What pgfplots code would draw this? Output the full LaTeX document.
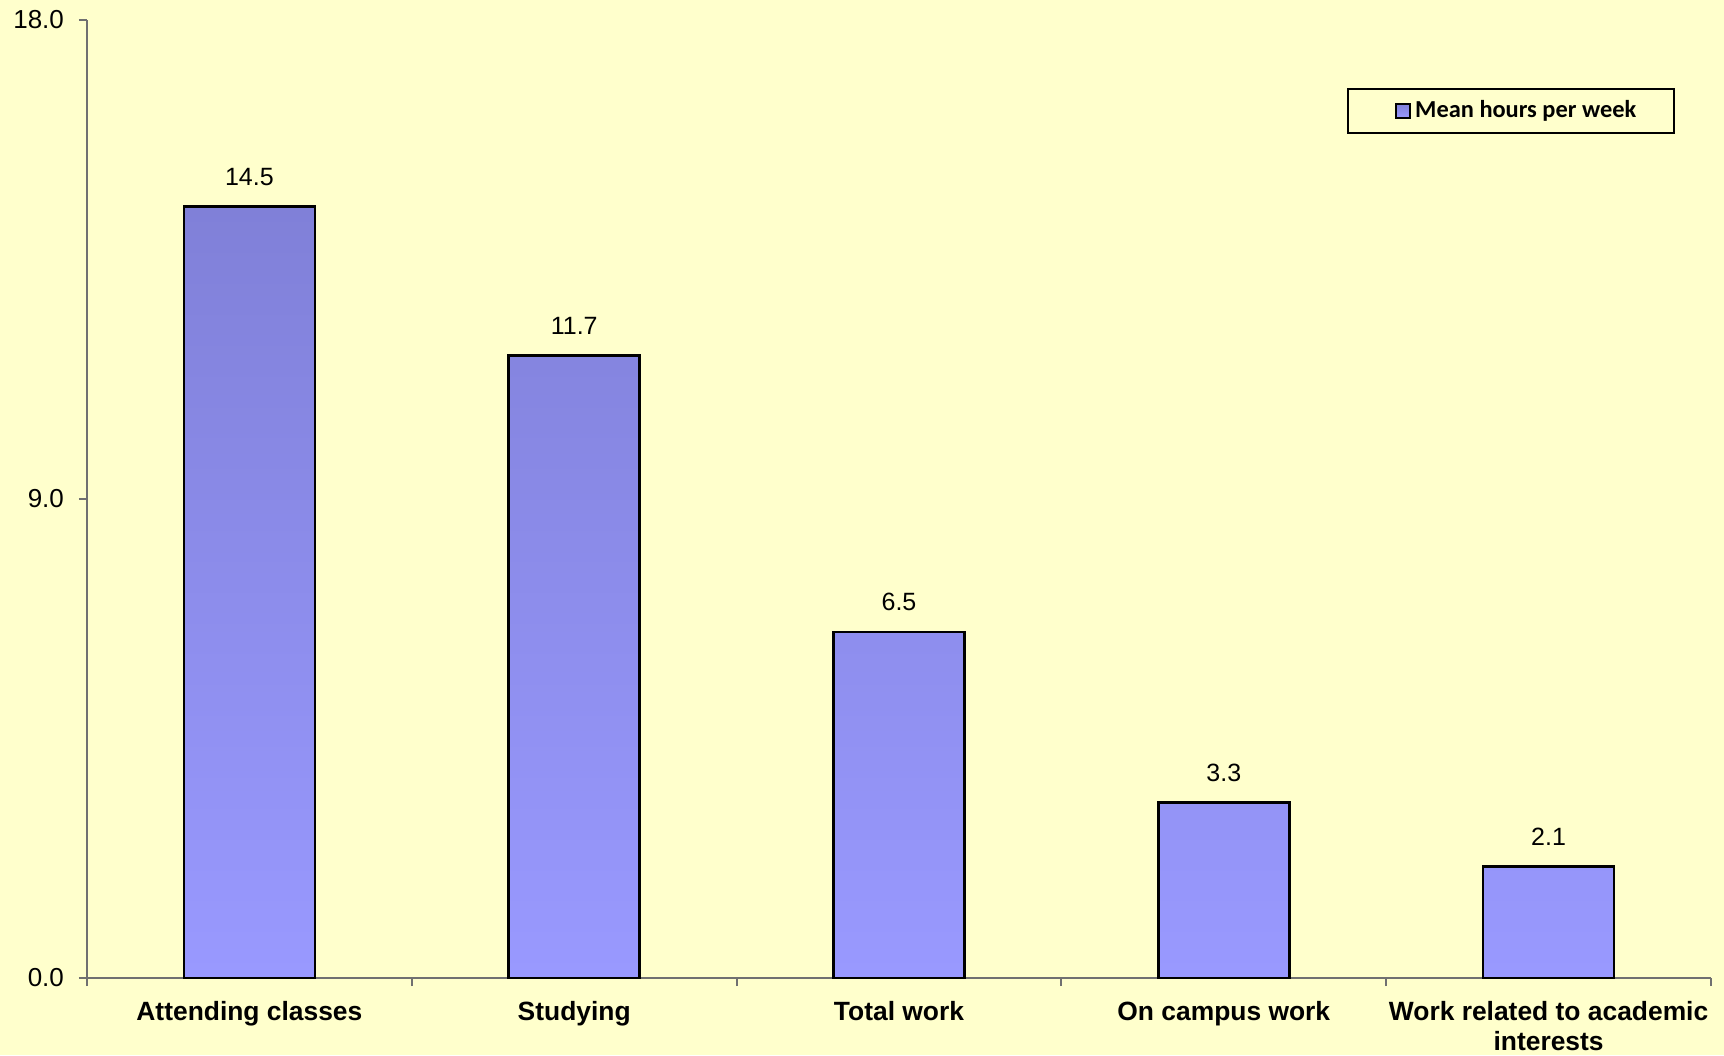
\documentclass[border=0pt]{standalone}
\usepackage{pgfplots}
\pgfplotsset{compat=1.18}
\usepackage{fontspec}
\setmainfont{Liberation Sans}
\newfontfamily\legendfont{Carlito}
\definecolor{bg}{HTML}{FFFFCC}
\definecolor{bartop}{HTML}{8080D8}
\definecolor{barbot}{HTML}{9999FF}
\definecolor{axgray}{HTML}{707070}
\begin{document}
\begin{tikzpicture}
\fill[bg] (0,0) rectangle (862pt,527.5pt);
\begin{axis}[
  at={(43.5pt,38.5pt)}, anchor=south west,
  width=812pt, height=479pt, scale only axis,
  xmin=-0.5, xmax=4.5, ymin=0, ymax=18,
  axis x line*=bottom, axis y line*=left,
  axis line style={axgray, line width=1pt},
  /pgf/number format/assume math mode=true,
  ytick={0,9,18}, yticklabels={0.0,9.0,18.0},
  xtick={0,1,2,3,4},
  xticklabels={Attending classes, Studying, Total work, On campus work, {Work related to academic\\interests}},
  x tick label style={font=\bfseries\fontsize{13.2}{15}\selectfont, align=center, anchor=north, yshift=-4pt},
  y tick label style={font=\fontsize{13}{15}\selectfont, xshift=-4pt},
  minor xtick={-0.5,0.5,1.5,2.5,3.5,4.5},
  major x tick style={draw=none},
  minor x tick style={axgray, line width=1pt},
  y tick style={axgray, line width=1pt},
  tick align=outside,
  major tick length=4pt, minor tick length=4pt,
  ybar, bar width=65.5pt,
  legend style={at={(0.978,0.929)}, anchor=north east, draw=black, line width=1pt, fill=bg,
    font=\legendfont\bfseries\fontsize{12.2}{14}\selectfont, inner xsep=17pt, inner ysep=3pt,
    nodes={inner sep=2pt, text height=9pt, text depth=3pt}},
  legend image code/.code={\path (-6.5pt,0pt); \draw[#1, line width=0.9pt] (0pt,-3.5pt) rectangle (7pt,3.5pt);},
]
\addplot[draw=black, line width=1.3pt, top color=bartop, bottom color=barbot,
  nodes near coords={\pgfmathprintnumber[fixed, precision=1, fixed zerofill]{\pgfplotspointmeta}},
  every node near coord/.style={font=\fontsize{12.5}{15}\selectfont, black, yshift=6.5pt}]
  coordinates {(0,14.5) (1,11.7) (2,6.5) (3,3.3) (4,2.1)};
\addlegendentry{Mean hours per week}
\end{axis}
\pgfresetboundingbox
\useasboundingbox (0,0) rectangle (862pt,527.5pt);
\end{tikzpicture}
\end{document}
